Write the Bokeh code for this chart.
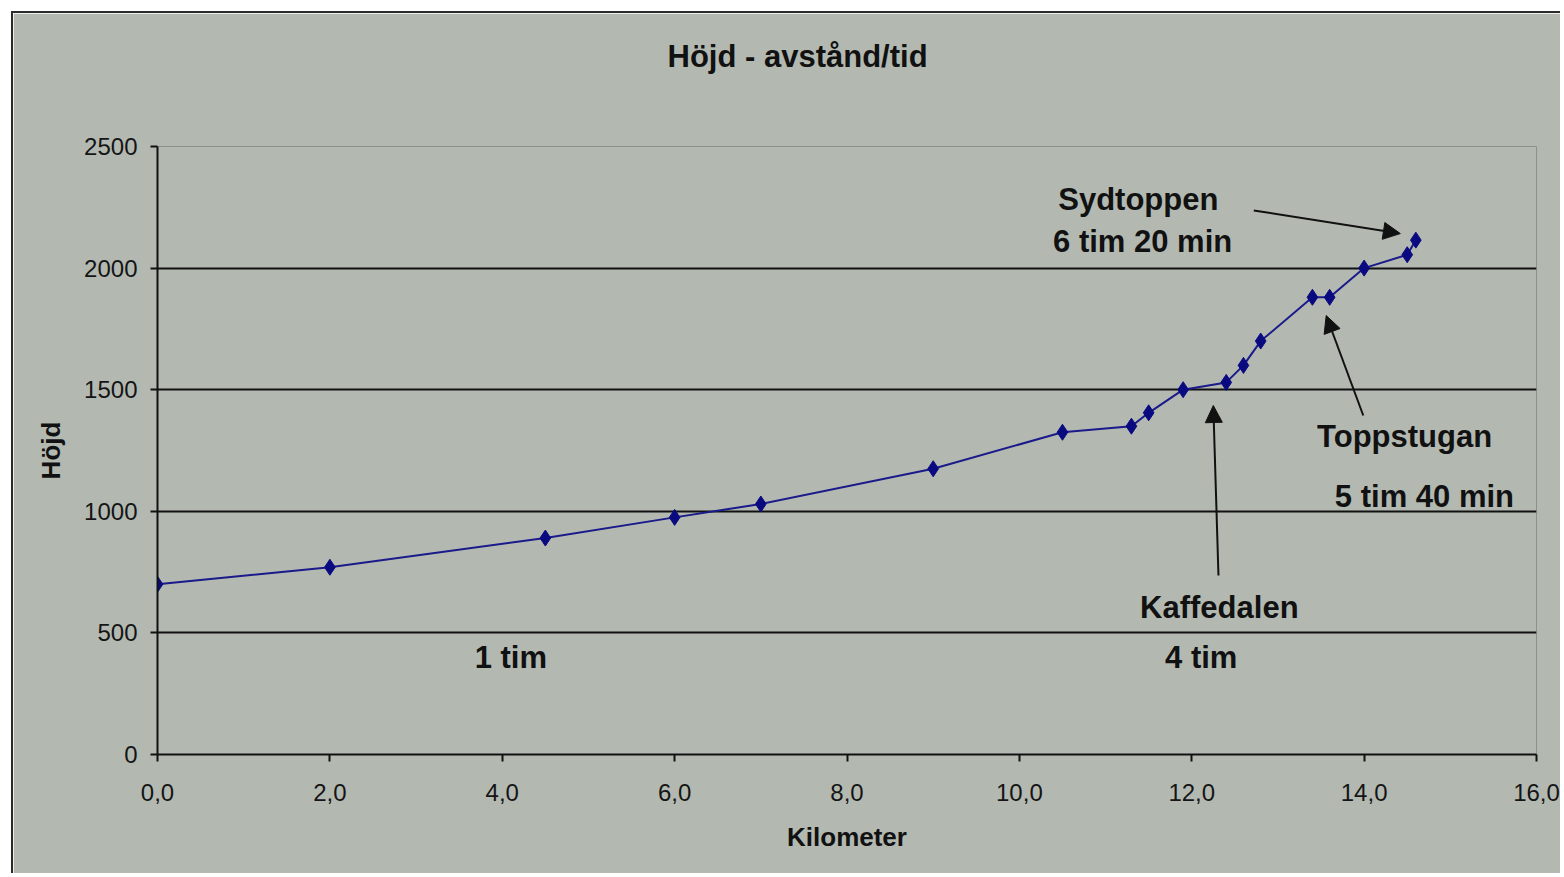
from bokeh.plotting import figure
from bokeh.models import Range1d, FixedTicker, Arrow, NormalHead, ColumnDataSource, Title
from bokeh.core.properties import value
from bokeh.embed import file_html
from bokeh.resources import INLINE

# ---- data ----
km = [0.0, 2.0, 4.5, 6.0, 7.0, 9.0, 10.5, 11.3, 11.5, 11.9, 12.4, 12.6, 12.8, 13.4, 13.6, 14.0, 14.5, 14.6]
hojd = [700, 770, 890, 975, 1030, 1175, 1325, 1350, 1405, 1500, 1530, 1600, 1700, 1880, 1880, 2000, 2055, 2115]

x_ticks = [0, 2, 4, 6, 8, 10, 12, 14, 16]
x_tick_labels = ["0,0", "2,0", "4,0", "6,0", "8,0", "10,0", "12,0", "14,0", "16,0"]
y_ticks = [0, 500, 1000, 1500, 2000, 2500]
y_grid = [500, 1000, 1500, 2000]

title_text = "Höjd - avstånd/tid"
x_label = "Kilometer"
y_label = "Höjd"

note_texts = ["Sydtoppen", "6 tim 20 min", "Toppstugan", "5 tim 40 min", "Kaffedalen", "4 tim", "1 tim"]
note_x = [11.38, 11.43, 14.47, 14.70, 12.32, 12.11, 4.10]
note_y = [2282, 2109, 1308, 1061, 604, 399, 399]

arrow_x0 = [12.72, 13.99, 12.31]
arrow_y0 = [2237, 1394, 736]
arrow_x1 = [14.42, 13.56, 12.25]
arrow_y1 = [2142, 1805, 1435]

BG = "#B3B9B1"
FONT = "Liberation Sans"

p = figure(width=1549, height=862, output_backend="svg", toolbar_location=None, title=None,
           x_range=Range1d(0, 16), y_range=Range1d(0, 2500),
           min_border_left=144, min_border_right=26, min_border_top=133, min_border_bottom=121)
p.styles = {"margin-left": "11px", "margin-top": "11px",
            "border-left": "2px solid #2a2a2a", "border-top": "2px solid #2a2a2a"}

p.background_fill_color = BG
p.border_fill_color = BG
p.outline_line_color = "#8C928A"
p.outline_line_width = 1

# title: a blank spacer next to the frame, then the real title above it
p.add_layout(Title(text=" ", text_font_size="2px", standoff=69), "above")
p.add_layout(Title(text=title_text, align="left", offset=510, vertical_align="bottom", standoff=0,
                   text_font=FONT, text_font_size="31px", text_font_style="bold",
                   text_color="#111111"), "above")

# axes
for ax in (p.xaxis[0], p.yaxis[0]):
    ax.axis_line_color = "#111111"
    ax.axis_line_width = 2
    ax.major_tick_line_color = "#111111"
    ax.major_tick_line_width = 2
    ax.major_tick_out = 7
    ax.major_tick_in = 0
    ax.minor_tick_line_color = None
    ax.major_label_text_font = FONT
    ax.major_label_text_font_size = "24px"
    ax.major_label_text_color = "#151515"
    ax.axis_label_text_font = FONT
    ax.axis_label_text_font_size = "26px"
    ax.axis_label_text_font_style = "bold"
    ax.axis_label_text_color = "#111111"

p.xaxis.ticker = FixedTicker(ticks=x_ticks)
p.xaxis.major_label_overrides = {t: l for t, l in zip(x_ticks, x_tick_labels)}
p.xaxis.major_label_standoff = 22
p.xaxis.axis_label = x_label
p.xaxis.axis_label_standoff = 18

p.yaxis.ticker = FixedTicker(ticks=y_ticks)
p.yaxis.major_label_standoff = 13
p.yaxis.axis_label = y_label
p.yaxis.axis_label_standoff = 15

p.xgrid.grid_line_color = None
p.ygrid.ticker = FixedTicker(ticks=y_grid)
p.ygrid.grid_line_color = "#111111"
p.ygrid.grid_line_width = 2

# series
src = ColumnDataSource(dict(km=km, hojd=hojd))
p.line("km", "hojd", source=src, line_color="#1A1A8A", line_width=2)
p.scatter("km", "hojd", source=src, marker="diamond", size=16,
          fill_color="#0A0A80", line_color="#0A0A80")

# annotations
nsrc = ColumnDataSource(dict(x=note_x, y=note_y, t=note_texts))
p.text("x", "y", text="t", source=nsrc, text_align="center", text_baseline="middle",
       text_font=value(FONT), text_font_size="31px", text_font_style="bold", text_color="#111111")

for x0, y0, x1, y1 in zip(arrow_x0, arrow_y0, arrow_x1, arrow_y1):
    p.add_layout(Arrow(x_start=x0, y_start=y0, x_end=x1, y_end=y1, line_color="#111111", line_width=2,
                       end=NormalHead(size=17, fill_color="#111111", line_color="#111111")))

open("out.html", "w").write(file_html(p, INLINE))
